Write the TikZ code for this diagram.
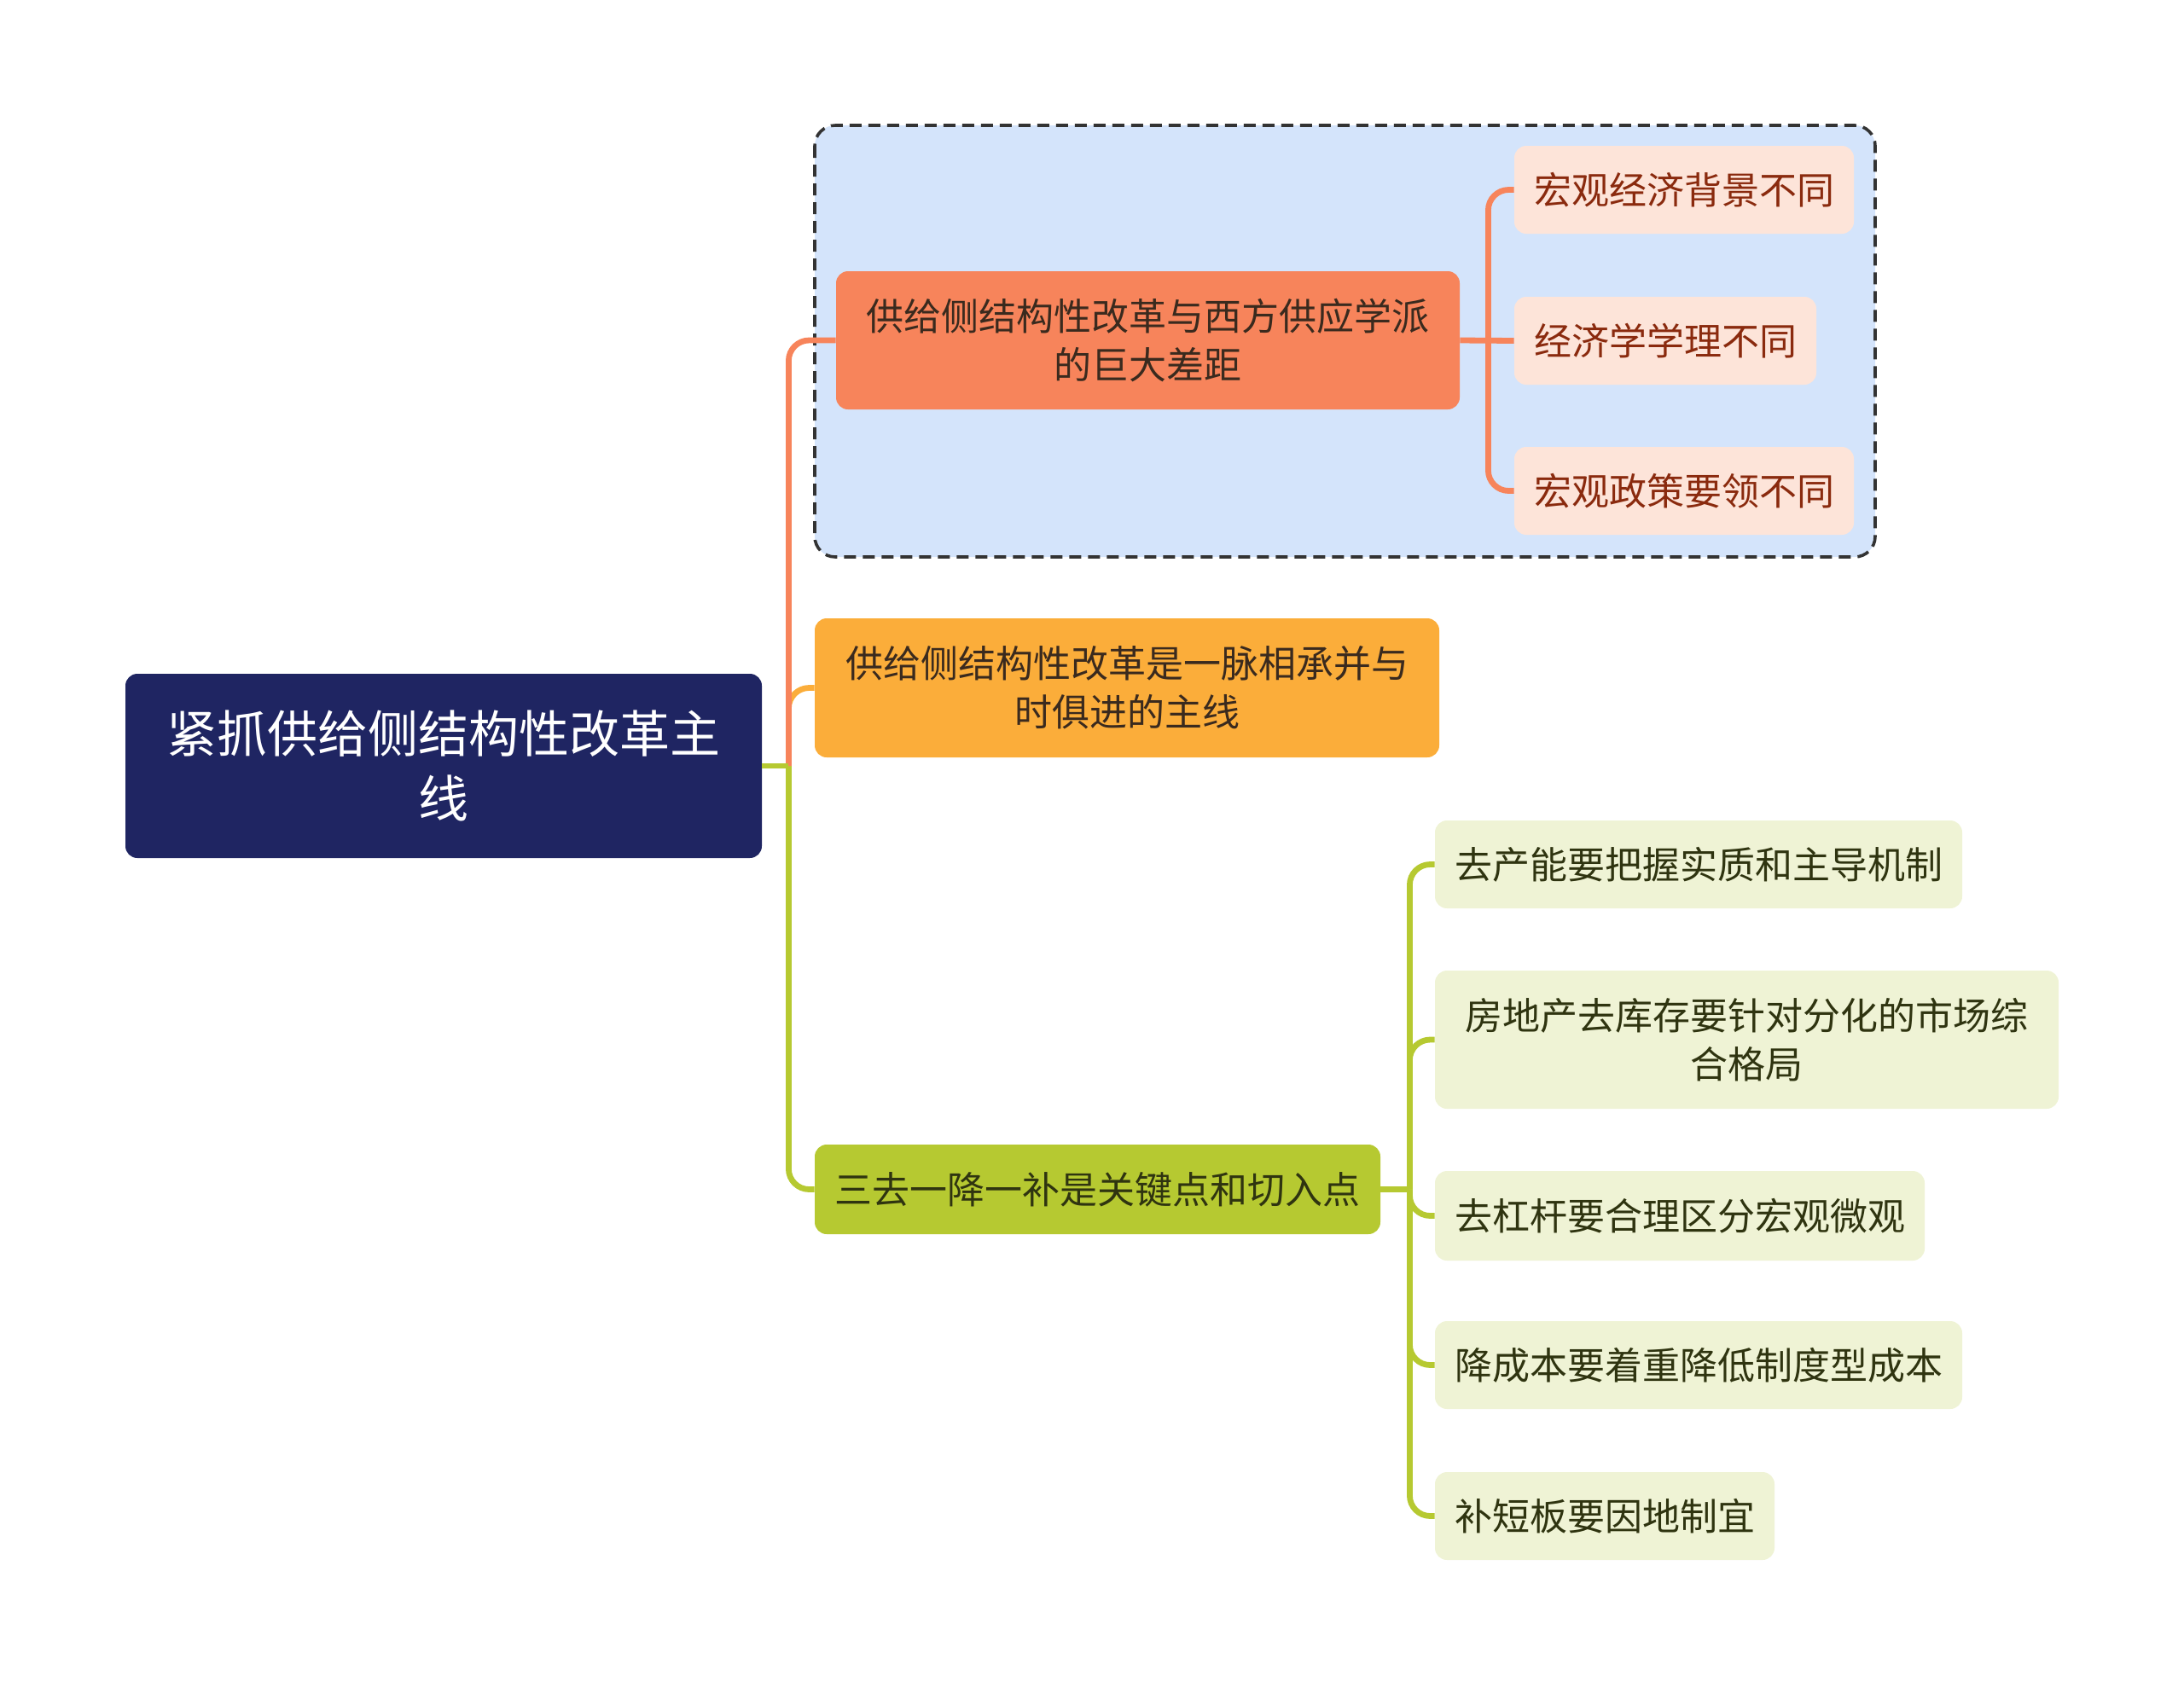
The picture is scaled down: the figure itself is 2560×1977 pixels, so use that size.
\documentclass[tikz,border=0pt]{standalone}
\usepackage{fontspec}
\setmainfont{Noto Sans CJK SC}
\usepackage{tikz}
\usetikzlibrary{calc}

\definecolor{navy}{HTML}{1F2562}
\definecolor{coral}{HTML}{F7845B}
\definecolor{amber}{HTML}{FBAD3A}
\definecolor{lime}{HTML}{B6C931}
\definecolor{peach}{HTML}{FDE4D9}
\definecolor{paleolive}{HTML}{EFF3D5}
\definecolor{paleblue}{HTML}{D4E4FB}
\definecolor{rusttext}{HTML}{8A2A0E}
\definecolor{olivetext}{HTML}{2F3410}
\definecolor{darktext}{HTML}{3A2A1E}

\begin{document}
\begin{tikzpicture}[x=0.5pt,y=-0.5pt,
  box/.style={rounded corners=7pt,inner sep=0pt,align=center,
    font=\fontsize{22pt}{28.6pt}\selectfont},
  rootbox/.style={box,fill=navy,text=white,minimum width=373pt,minimum height=108pt,
    font=\fontsize{29.5pt}{38pt}\selectfont},
  leafA/.style={box,fill=peach,text=rusttext,minimum height=51.5pt},
  leafC/.style={box,fill=paleolive,text=olivetext,minimum height=51.5pt},
  conn/.style={line width=3.4pt,rounded corners=12pt}]
  \useasboundingbox (0,0) rectangle (2560,1977);
  \draw[fill=paleblue,draw=black!80,line width=1.8pt,dash pattern=on 7pt off 4pt,rounded corners=12pt]
    (955,147) rectangle (2198,653);
  \node[rootbox] (root) at (520,898) {紧抓供给侧结构性改革主\\线};
  \node[box,fill=coral,text=darktext,minimum width=365.5pt,minimum height=81pt] (gap) at (1345.5,399)
    {供给侧结构性改革与西方供应学派\\的巨大差距};
  \node[leafA,minimum width=199pt] (bg)  at (1974,222.5) {宏观经济背景不同};
  \node[leafA,minimum width=177pt] (thy) at (1952,399.5) {经济学学理不同};
  \node[leafA,minimum width=199pt] (pol) at (1974,575.5) {宏观政策要领不同};
  \node[box,fill=amber,text=darktext,minimum width=366pt,minimum height=81.5pt] (line) at (1321,806.5)
    {供给侧结构性改革是一脉相承并与\\时俱进的主线};
  \node[box,fill=lime,text=olivetext,minimum width=331.5pt,minimum height=52.5pt] (key) at (1286.5,1394.5)
    {三去一降一补是关键点和切入点};
  \node[leafC,minimum width=309pt] (cap)  at (1991,1013.5) {去产能要把握实质和主导机制};
  \node[leafC,minimum width=365.5pt,minimum height=81pt] (inv) at (2047.5,1219)
    {房地产去库存要针对分化的市场综\\合格局};
  \node[leafC,minimum width=287pt,minimum height=52.5pt] (lev) at (1969,1425.5) {去杠杆要合理区分宏观微观};
  \node[leafC,minimum width=309pt] (cost) at (1991,1600.5) {降成本要着重降低制度型成本};
  \node[leafC,minimum width=199pt] (sup)  at (1881,1777.5) {补短板要因地制宜};
  \coordinate (rj) at ($(root.east)+(31,0)$);
  \coordinate (aj) at ($(gap.east)+(33,0)$);
  \coordinate (cj) at ($(key.east)+(34,0)$);
  \draw[conn,lime] (rj) |- (key.west);
  \draw[conn,amber] (rj) |- (line.west);
  \draw[conn,coral] (rj) |- (gap.west);
  \draw[conn,lime] (root.east) -- (rj);
  \draw[conn,coral] (gap.east) -- (thy.west);
  \draw[conn,coral] (aj) |- (bg.west);
  \draw[conn,coral] (aj) |- (pol.west);
  \draw[conn,lime] (key.east) -- (cj);
  \draw[conn,lime] (cj) |- (cap.west);
  \draw[conn,lime] (cj) |- (inv.west);
  \draw[conn,lime] (cj) |- (lev.west);
  \draw[conn,lime] (cj) |- (cost.west);
  \draw[conn,lime] (cj) |- (sup.west);
\end{tikzpicture}
\end{document}
